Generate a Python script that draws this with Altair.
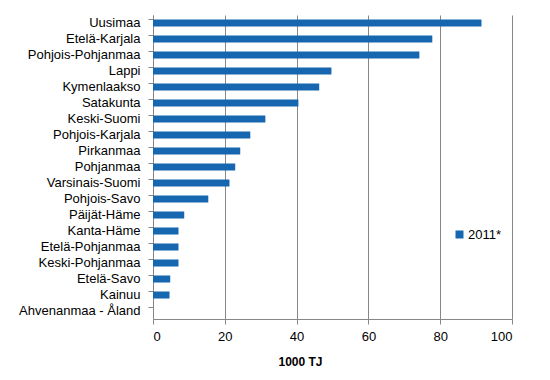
import altair as alt
import pandas as pd

regions = ["Uusimaa", "Etelä-Karjala", "Pohjois-Pohjanmaa", "Lappi", "Kymenlaakso",
           "Satakunta", "Keski-Suomi", "Pohjois-Karjala", "Pirkanmaa", "Pohjanmaa",
           "Varsinais-Suomi", "Pohjois-Savo", "Päijät-Häme", "Kanta-Häme",
           "Etelä-Pohjanmaa", "Keski-Pohjanmaa", "Etelä-Savo", "Kainuu",
           "Ahvenanmaa - Åland"]
values_2011 = [91.5, 77.8, 74.2, 49.7, 46.3, 40.5, 31.3, 27.1, 24.3, 22.9,
               21.3, 15.4, 8.7, 7.1, 7.1, 7.1, 4.8, 4.6, 0.0]
series = "2011*"
x_ticks = [0, 20, 40, 60, 80, 100]

df = pd.DataFrame({"region": regions, "value": values_2011, "series": [series] * len(regions)})

font = "Liberation Sans"
grid_col = "#878787"

bars = alt.Chart(df).mark_bar(color="#1767b0").encode(
    y=alt.Y("region:N", sort=regions,
            scale=alt.Scale(paddingInner=0.56, paddingOuter=0.28),
            axis=alt.Axis(title=None, bandPosition=0, tickSize=5, tickColor=grid_col,
                          domainColor=grid_col, labelFont=font, labelFontSize=13,
                          labelColor="#000000", labelPadding=8, grid=False)),
    x=alt.X("value:Q", scale=alt.Scale(domain=[0, 100], nice=False),
            axis=alt.Axis(title="1000 TJ", values=x_ticks, tickSize=5, tickColor=grid_col,
                          domainColor=grid_col, gridColor=grid_col, grid=True,
                          labelFont=font, labelFontSize=13, labelColor="#000000",
                          labelPadding=6, titleFont=font, titleFontSize=12,
                          titleFontWeight="bold", titlePadding=13, titleX=147,
                          titleColor="#000000")),
    fill=alt.Fill("series:N", scale=alt.Scale(range=["#1767b0"]),
                  legend=alt.Legend(title=None, orient="none", legendX=300, legendY=213,
                                    symbolType="square", symbolSize=64, symbolStrokeWidth=0,
                                    labelFont=font, labelFontSize=13, labelColor="#000000",
                                    labelOffset=2)),
)

chart = bars.properties(width=359, height=304,
                        padding={"left": 145, "top": 7, "right": 30, "bottom": 50},
                        autosize=alt.AutoSizeParams(type="none")).configure_view(stroke=None)

chart.save("out.html", embed_options={"renderer": "svg", "actions": False})
